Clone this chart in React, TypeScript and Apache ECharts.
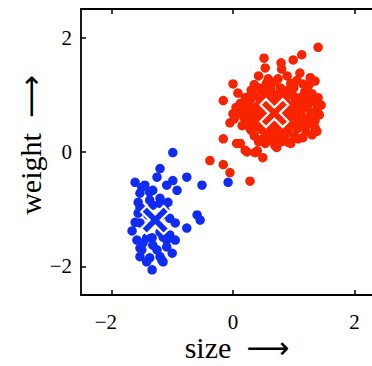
import React, { useEffect, useRef } from "react";
import * as echarts from "echarts";

const tickValues = [-2, 0, 2];
const xTitle = "{t|size}  {a|⟶}";
const yTitle = "{t|weight}  {a|⟶}";

const redPoints: number[][] = [
  [1.40, 1.83], [1.13, 1.70], [0.99, 1.61], [0.79, 1.56], [0.51, 1.64], [0.53, 1.47], [0.80, 1.45],
  [0.42, 1.33], [0.00, 1.19], [0.58, 1.28], [1.10, 1.38], [1.27, 1.30], [1.35, 1.24], [1.15, 1.19],
  [-0.16, 0.90], [0.08, 1.03], [0.74, 1.28], [0.89, 1.33], [0.44, 1.12], [0.28, 0.98], [1.22, 1.10],
  [1.35, 0.42], [1.38, 0.36], [-0.16, 0.23], [-0.05, 0.51], [0.06, 0.15], [0.20, 0.03], [0.36, -0.01],
  [0.49, -0.10], [-0.38, -0.15], [-0.16, -0.22], [-0.05, -0.36], [0.28, -0.51], [0.49, 0.23], [0.69, 0.11],
  [0.91, 0.17], [1.07, 0.23], [0.28, 0.41], [0.15, 0.46], [0.00, 0.67], [0.12, 0.15], [0.23, 0.0],
  [0.40, 0.02], [0.53, 0.15], [0.72, 0.08],
  [0.35, 1.18], [0.55, 1.2], [0.68, 1.22], [0.95, 1.2], [1.05, 1.25], [1.25, 1.18],
  [0.3, 1.08], [0.5, 1.05], [0.62, 1.1], [0.78, 1.12], [0.9, 1.08], [1.0, 1.12], [1.18, 1.05], [1.3, 1.02],
  [0.2, 0.95], [0.38, 0.98], [0.55, 0.95], [0.7, 1.0], [0.85, 0.98], [0.98, 1.0], [1.1, 0.95], [1.25, 0.98], [1.4, 0.95],
  [0.12, 0.85], [0.28, 0.88], [0.45, 0.9], [0.6, 0.86], [0.75, 0.9], [0.88, 0.86], [1.02, 0.88], [1.15, 0.85], [1.32, 0.88], [1.45, 0.82],
  [0.05, 0.78], [0.2, 0.8], [0.35, 0.76], [0.5, 0.8], [0.65, 0.78], [0.8, 0.8], [0.95, 0.76], [1.08, 0.8], [1.22, 0.78], [1.38, 0.75],
  [0.1, 0.68], [0.25, 0.7], [0.4, 0.66], [0.55, 0.7], [0.7, 0.68], [0.85, 0.7], [1.0, 0.66], [1.12, 0.7], [1.28, 0.68], [1.42, 0.65],
  [0.02, 0.58], [0.18, 0.6], [0.32, 0.56], [0.48, 0.6], [0.62, 0.58], [0.78, 0.6], [0.92, 0.56], [1.05, 0.6], [1.2, 0.58], [1.35, 0.55],
  [0.22, 0.48], [0.38, 0.5], [0.52, 0.46], [0.68, 0.5], [0.82, 0.48], [0.98, 0.5], [1.12, 0.46], [1.25, 0.5],
  [0.3, 0.38], [0.45, 0.4], [0.6, 0.36], [0.75, 0.4], [0.9, 0.38], [1.05, 0.4], [1.2, 0.36], [1.3, 0.3],
  [0.35, 0.28], [0.55, 0.3], [0.7, 0.26], [0.85, 0.3], [1.0, 0.28], [1.15, 0.25],
  [0.42, 0.18], [0.62, 0.2], [0.8, 0.18], [0.95, 0.15],
  [0.66, 0.84], [0.73, 0.55], [0.58, 0.64], [0.83, 0.62], [0.46, 0.72], [0.93, 0.74], [0.77, 0.95],
  [0.63, 0.45], [0.52, 0.88], [0.88, 0.52],
  [0.27, 0.63], [0.43, 0.83], [0.57, 0.52], [0.72, 0.74], [0.86, 0.92], [1.03, 0.72], [1.17, 0.92],
  [0.96, 0.62], [0.69, 0.92], [0.5, 0.38], [0.8, 1.05], [1.1, 0.52], [0.34, 0.44], [1.24, 0.84],
  [0.14, 0.72], [0.6, 1.0], [0.9, 0.44], [1.3, 0.6], [0.42, 0.6], [0.75, 0.33],
];

const bluePoints: number[][] = [
  [-0.99, -0.01], [-1.20, -0.29], [-1.25, -0.44], [-1.61, -0.53], [-1.45, -0.58], [-1.50, -0.62],
  [-0.99, -0.50], [-0.76, -0.44], [-0.51, -0.58], [-0.08, -0.53], [-1.09, -0.58], [-0.92, -0.67],
  [-1.37, -0.70], [-1.32, -0.67], [-1.53, -0.72], [-1.56, -0.88], [-1.37, -0.84], [-1.20, -0.81],
  [-1.07, -0.88], [-1.32, -0.93], [-1.53, -0.97], [-1.20, -0.90], [-0.59, -1.10], [-0.54, -1.19],
  [-0.76, -1.33], [-0.95, -1.24], [-1.66, -1.38], [-1.53, -1.24], [-1.56, -1.07], [-1.61, -1.23],
  [-1.48, -1.59], [-1.09, -1.54], [-0.95, -1.54], [-1.00, -1.77], [-1.50, -1.71], [-1.53, -1.83],
  [-1.42, -1.92], [-1.20, -1.83], [-1.15, -1.92], [-1.33, -2.06], [-1.20, -1.40], [-1.33, -1.50],
  [-1.04, -1.45], [-1.32, -1.63], [-1.09, -1.66], [-1.42, -1.50], [-1.15, -1.49], [-1.53, -1.68],
  [-1.17, -1.89], [-1.40, -1.10], [-1.17, -1.10], [-1.37, -1.28], [-1.20, -1.28], [-1.45, -1.02],
  [-1.12, -1.02], [-1.04, -1.16], [-1.58, -1.54], [-1.25, -1.71], [-1.37, -1.85],
];

const redCenter: number[][] = [[0.68, 0.68]];
const blueCenter: number[][] = [[-1.28, -1.19]];

const RED = "#f82400";
const BLUE = "#102cf4";
const FONT = "'Liberation Serif', 'DejaVu Serif', serif";
const CROSS = "path://M0,2 L2,0 L5,3 L8,0 L10,2 L7,5 L10,8 L8,10 L5,7 L2,10 L0,8 L3,5 Z";

const fmtX = (v: number) => (v < 0 ? "{m|\u2212" + Math.abs(v) + "}" : "{n|" + v + "}");
const fmtY = (v: number) => (v < 0 ? "{n|\u2212" + Math.abs(v) + "}" : "{n|" + v + "}");

export default function App() {
  const ref = useRef<HTMLDivElement>(null);
  useEffect(() => {
    if (!ref.current) return;
    const chart = echarts.init(ref.current, undefined, { renderer: "svg" });
    const lineStyle = { color: "#000", width: 1.8 };
    const tick = { show: true, inside: true, length: 5, customValues: tickValues, lineStyle: { color: "#000", width: 1.5 } };
    const txt = { fontFamily: FONT, fontSize: 21, color: "#000" };
    const rich = {
      t: { fontFamily: FONT, fontSize: 30, color: "#000", lineHeight: 22 },
      a: { fontFamily: "'DejaVu Sans'", fontSize: 30, color: "#000", lineHeight: 22 },
    };
    chart.setOption({
      animation: false,
      backgroundColor: "#fff",
      grid: { left: 81, top: 9, width: 304, height: 286, outerBoundsMode: "none", containLabel: false },
      xAxis: [
        {
          type: "value", min: -2.5, max: 2.5, position: "bottom",
          axisLine: { show: true, onZero: false, lineStyle }, axisTick: tick,
          axisLabel: {
            show: true, customValues: tickValues, formatter: fmtX, margin: 16, ...txt,
            rich: { m: { ...txt, padding: [0, 11, 0, 0] }, n: { ...txt } },
          },
          splitLine: { show: false },
          name: xTitle, nameLocation: "middle", nameGap: 41, nameMoveOverlap: false,
          nameTextStyle: { fontFamily: FONT, fontSize: 30, color: "#000", lineHeight: 22, padding: [0, 0, 0, 8], rich },
        },
        {
          type: "value", min: -2.5, max: 2.5, position: "top",
          axisLine: { show: true, onZero: false, lineStyle }, axisTick: tick,
          axisLabel: { show: false }, splitLine: { show: false },
        },
      ],
      yAxis: [
        {
          type: "value", min: -2.5, max: 2.5, position: "left",
          axisLine: { show: true, onZero: false, lineStyle }, axisTick: tick,
          axisLabel: {
            show: true, customValues: tickValues, formatter: fmtY, margin: 9, ...txt,
            rich: { n: { ...txt } },
          },
          splitLine: { show: false },
          name: yTitle, nameLocation: "middle", nameGap: 40, nameRotate: 90, nameMoveOverlap: false,
          nameTextStyle: { fontFamily: FONT, fontSize: 30, color: "#000", lineHeight: 22, padding: [0, 0, 0, 14], rich },
        },
        {
          type: "value", min: -2.5, max: 2.5, position: "right",
          axisLine: { show: true, onZero: false, lineStyle }, axisTick: { show: false },
          axisLabel: { show: false }, splitLine: { show: false },
        },
      ],
      series: [
        { type: "scatter", data: bluePoints, symbolSize: 9.5, itemStyle: { color: BLUE, opacity: 1 } },
        { type: "scatter", data: redPoints, symbolSize: 9.5, itemStyle: { color: RED, opacity: 1 } },
        {
          type: "scatter", data: redCenter, symbol: CROSS, symbolSize: 28, z: 5,
          itemStyle: { color: RED, borderColor: "#fff", borderWidth: 2.2, opacity: 1 },
        },
        {
          type: "scatter", data: blueCenter, symbol: CROSS, symbolSize: 28, z: 5,
          itemStyle: { color: BLUE, borderColor: "#fff", borderWidth: 2.2, opacity: 1 },
        },
      ],
    });
    return () => chart.dispose();
  }, []);
  return <div ref={ref} style={{ position: "fixed", left: 0, top: 0, width: 372, height: 366 }} />;
}
